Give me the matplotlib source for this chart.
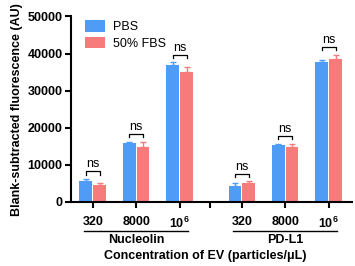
import matplotlib
matplotlib.use("Agg")
import matplotlib.pyplot as plt
import matplotlib.transforms as mtransforms
import numpy as np

plt.rcParams['font.family'] = ['Liberation Sans', 'DejaVu Sans']
plt.rcParams['mathtext.fontset'] = 'custom'
plt.rcParams['mathtext.rm'] = 'Liberation Sans'
plt.rcParams['mathtext.bf'] = 'Liberation Sans:bold'

# data
groups = ['Nucleolin', 'PD-L1']
conc_labels = ['320', '8000', r'$\mathbf{10^6}$']
pbs_mean = [5500, 16000, 37000, 4200, 15300, 37800]
pbs_err = [600, 200, 600, 800, 300, 500]
fbs_mean = [4600, 14900, 35000, 5000, 14700, 38500]
fbs_err = [400, 1200, 1500, 500, 1000, 1200]

blue = '#4f9cf6'
red = '#f77b7b'

x = np.array([0, 1, 2, 3.43, 4.43, 5.43])
w = 0.29
off = 0.16

fig = plt.figure(figsize=(3.55, 2.66), dpi=100)
ax = fig.add_axes([0.2, 0.241, 0.792, 0.697])

ax.bar(x - off, pbs_mean, w, color=blue, label='PBS')
ax.bar(x + off, fbs_mean, w, color=red, label='50% FBS')
ax.errorbar(x - off, pbs_mean, yerr=[np.zeros(6), pbs_err], fmt='none',
            ecolor=blue, elinewidth=1, capsize=2.5, capthick=1)
ax.errorbar(x + off, fbs_mean, yerr=[np.zeros(6), fbs_err], fmt='none',
            ecolor=red, elinewidth=1, capsize=2.5, capthick=1)

# ns brackets
for i in range(6):
    top = max(pbs_mean[i] + pbs_err[i], fbs_mean[i] + fbs_err[i]) + 1200
    x0, x1 = x[i] - off, x[i] + off
    ax.plot([x0, x0, x1, x1], [top, top + 900, top + 900, top], color='black', lw=0.9)
    ax.text(x[i], top + 1200, 'ns', ha='center', va='bottom', fontsize=9)

ax.set_ylim(0, 50000)
ax.set_xlim(-0.5, 5.97)
ax.set_yticks([0, 10000, 20000, 30000, 40000, 50000])
ax.set_xticks([0, 1, 2, 2.71, 3.43, 4.43, 5.43])
ax.set_xticklabels(conc_labels + [''] + conc_labels)
for lab in ax.get_xticklabels() + ax.get_yticklabels():
    lab.set_fontweight('bold')
ax.tick_params(axis='both', labelsize=9, width=1.5, length=4, pad=6)
ax.tick_params(axis='y', pad=2)
for s in ['top', 'right']:
    ax.spines[s].set_visible(False)
for s in ['left', 'bottom']:
    ax.spines[s].set_linewidth(1.5)

ax.set_ylabel('Blank-subtracted fluorescence (AU)', fontsize=9, fontweight='bold', labelpad=3)

trans = mtransforms.blended_transform_factory(ax.transData, ax.transAxes)
for g, (a, b) in zip(groups, [(0, 2), (3.43, 5.43)]):
    ax.plot([a - 0.2, b + 0.2], [-0.158, -0.158], transform=trans, color='black',
            lw=1, clip_on=False)
    ax.text((a + b) / 2, -0.172, g, transform=trans, ha='center', va='top',
            fontsize=9, fontweight='bold')

fig.text(0.578, 0.015, 'Concentration of EV (particles/μL)', ha='center', va='bottom',
         fontsize=9, fontweight='bold')

ax.legend(loc='upper left', bbox_to_anchor=(0.01, 1.04), frameon=False, fontsize=9,
          handlelength=1.6, handleheight=1.0, handletextpad=0.6, labelspacing=0.3)

fig.savefig('out.png', dpi=100)
